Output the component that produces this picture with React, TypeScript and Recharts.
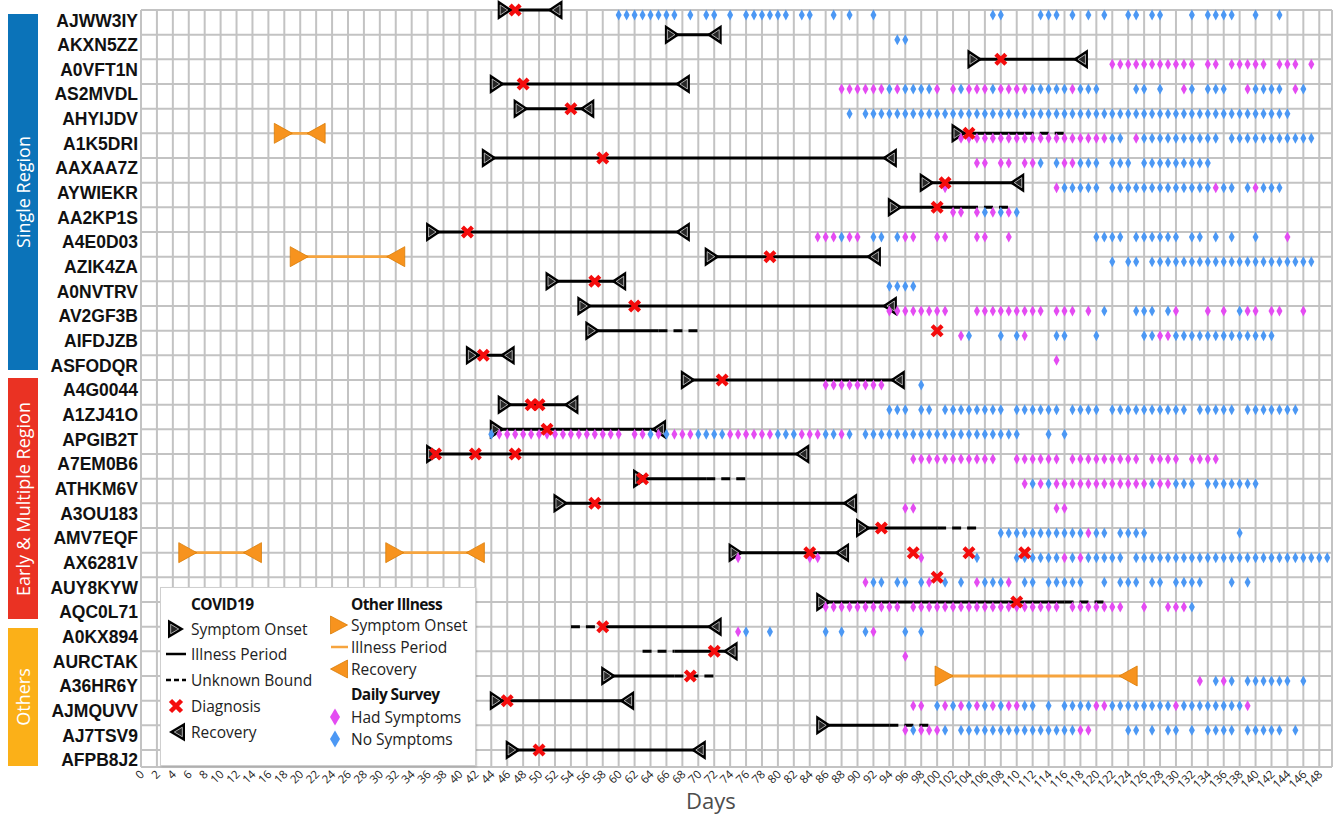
import React from 'react';
import { ScatterChart, XAxis, YAxis, CartesianGrid, Scatter, ReferenceLine } from 'recharts';

const participants = [
  'AJWW3IY', 'AKXN5ZZ', 'A0VFT1N', 'AS2MVDL', 'AHYIJDV', 'A1K5DRI', 'AAXAA7Z', 'AYWIEKR',
  'AA2KP1S', 'A4E0D03', 'AZIK4ZA', 'A0NVTRV', 'AV2GF3B', 'AIFDJZB', 'ASFODQR', 'A4G0044',
  'A1ZJ41O', 'APGIB2T', 'A7EM0B6', 'ATHKM6V', 'A3OU183', 'AMV7EQF', 'AX6281V', 'AUY8KYW',
  'AQC0L71', 'A0KX894', 'AURCTAK', 'A36HR6Y', 'AJMQUVV', 'AJ7TSV9', 'AFPB8J2',
];

const covidOnset: (number | null)[] = [
  46, 67, 105, 45, 48, 103, 44, 99, 95, 37, 72, 52, 56, 57, 42, 69,
  46, 45, 37, 63, 53, 91, 75, null, 86, null, null, 59, 45, 86, 47,
];

const covidRecovery: (number | null)[] = [
  52, 72, 118, 68, 56, null, 94, 110, null, 68, 92, 60, 94, null, 46, 95,
  54, 65, 83, null, 89, null, 88, null, null, 72, 74, null, 61, null, 70,
];

const diagnosisDays: number[][] = [
  [47], [], [108], [48], [54], [104], [58], [101], [100], [41], [79], [57], [62], [100], [43], [73],
  [49, 50], [51], [37, 42, 47], [63], [57], [93], [84, 97, 104, 111], [100], [110], [58], [72], [69], [46], [], [50],
];

// [row, from, to]
const illnessPeriod: [number, number, number][] = [
  [0, 46, 52], [1, 67, 72], [2, 105, 118], [3, 45, 68], [4, 48, 56], [5, 103, 111], [6, 44, 94],
  [7, 99, 110], [8, 95, 104], [9, 37, 68], [10, 72, 92], [11, 52, 60], [12, 56, 94], [13, 57, 65],
  [14, 42, 46], [15, 69, 95], [16, 46, 54], [17, 45, 65], [18, 37, 83], [19, 63, 71], [20, 53, 89],
  [21, 91, 100], [22, 75, 88], [24, 86, 116], [25, 58, 72], [26, 67, 74], [27, 59, 67], [28, 45, 61],
  [29, 86, 94], [30, 47, 70],
];

const unknownBound: [number, number, number][] = [
  [5, 111, 116], [8, 104, 109], [13, 65, 70], [19, 71, 76], [21, 100, 105], [24, 116, 121],
  [25, 54, 58], [26, 63, 67], [27, 67, 72], [29, 94, 99],
];

const otherOnset: [number, number][] = [[5, 18], [10, 20], [22, 6], [22, 32], [27, 101]];
const otherRecovery: [number, number][] = [[5, 22], [10, 32], [22, 14], [22, 42], [27, 124]];
const otherPeriod: [number, number, number][] = [[5, 18, 22], [10, 20, 32], [22, 6, 14], [22, 32, 42], [27, 101, 124]];

const surveyHad: string[] = [
  '', '', '122-132,134-135,137-141,143-145,147',
  '88-93,95,100,102,104-106,108-111,117,131,139,145', '', '103-121,125',
  '105-106,108-109,111-112,116-117', '101,115,135,140', '102-103,105,107,109',
  '85-87,89-90,96-97,100-101,105-106,109,144', '', '',
  '94-101,105-113,115-117,119,130,134,136,139-140,142-143,146', '103,111,128-129', '115', '86-93',
  '', '45-60,62-63,65,67-69,74-79,83-85,88', '97-107,110-115,117-125,127-130,132-135',
  '111,113,115-126,128-129', '96-97,115-116', '119', '75,84-85,98,116,118', '91,99,105,109',
  '86-95,97-115,117-123,126,129-131', '75,92', '96', '133,136',
  '97-98,101,103,105,107,109-110,120-121,130,139', '96,98-100,118-119', '',
];

const surveyNo: string[] = [
  '60-67,69,71-72,74,76-81,83-84,87,89,92,107-108,113-115,117,119,121,124-125,127-128,132,134-137,140,143',
  '95-96', '',
  '94,96-99,103,107,112-116,118-120,125-126,128,132,134-136,140-143,146', '89,91-144',
  '122-123,126-135,137-147', '113,115,118-120,122-124,126-134', '116-120,122-134,136-137,139,141-143',
  '106,108,110', '88,92-93,95,120-123,125-130,132-133,135,137,140', '122,124-125,127-147', '94-97',
  '121,125-127,129,138', '104,108,110,115-116,120,126-127,130-142', '', '98',
  '94-96,98-99,101-108,110-115,117-120,122-131,133-137,139-145',
  '44,64,66,70-73,80-82,86-87,89,91-110,114,116', '', '112,114,127,130-132,134-140', '',
  '108-118,120-121,123-126,138', '105,110-115,117,119-123,125-149',
  '92-93,95-96,98,101,103,106-108,111-112,114-118,121,123-125,127-128,130-133,137,139', '132',
  '76,79,86,88,91,96,98', '', '135,137,139-144,146',
  '100,102,104,106,108,111-112,114,116-119,122-129,131-138',
  '97,101,103-117,124-125,127,129-130,132,134-137,139-143,145', '',
];

const xTicks = [
  0, 2, 4, 6, 8, 10, 12, 14, 16, 18, 20, 22, 24, 26, 28, 30, 32, 34, 36, 38, 40, 42, 44, 46, 48,
  50, 52, 54, 56, 58, 60, 62, 64, 66, 68, 70, 72, 74, 76, 78, 80, 82, 84, 86, 88, 90, 92, 94, 96,
  98, 100, 102, 104, 106, 108, 110, 112, 114, 116, 118, 120, 122, 124, 126, 128, 130, 132, 134,
  136, 138, 140, 142, 144, 146, 148,
];
const yTicks = participants.map((_, i) => i);

const parseDays = (s: string): number[] => {
  if (!s) return [];
  const out: number[] = [];
  s.split(',').forEach((part) => {
    const [a, b] = part.split('-').map(Number);
    if (b === undefined || isNaN(b)) out.push(a);
    else for (let d = a; d <= b; d++) out.push(d);
  });
  return out;
};

const onsetPts = covidOnset.flatMap((d, i) => (d == null ? [] : [{ x: d, y: i }]));
const recoveryPts = covidRecovery.flatMap((d, i) => (d == null ? [] : [{ x: d, y: i }]));
const diagPts = diagnosisDays.flatMap((ds, i) => ds.map((d) => ({ x: d, y: i })));
const otherOnsetPts = otherOnset.map(([r, d]) => ({ x: d, y: r }));
const otherRecoveryPts = otherRecovery.map(([r, d]) => ({ x: d, y: r }));
const hadPts = surveyHad.flatMap((s, i) => parseDays(s).map((d) => ({ x: d, y: i })));
const noPts = surveyNo.flatMap((s, i) => parseDays(s).map((d) => ({ x: d, y: i })));

const BLUE_D = '#4c98f4';
const MAG_D = '#e44cf2';
const ORANGE = '#f7931e';
const ORANGE_LINE = '#f6a43e';

const blackTri = (cx: number, cy: number, dir: 1 | -1, w = 15, h = 20) => {
  const bx = cx - dir * w / 2;
  const ax = cx + dir * w / 2;
  const gx = (bx * 2 + ax) / 3;
  const s = 0.5;
  const p = (x: number, y: number) => `${gx + (x - gx) * s},${cy + (y - cy) * s}`;
  return (
    <g>
      <polygon points={`${bx},${cy - h / 2} ${ax},${cy} ${bx},${cy + h / 2}`} fill="#000" />
      <polygon points={`${p(bx, cy - h / 2)} ${p(ax, cy)} ${p(bx, cy + h / 2)}`} fill="#262626" stroke="#cfcfcf" strokeWidth={0.8} />
    </g>
  );
};

const orangeTri = (cx: number, cy: number, dir: 1 | -1, w = 18, h = 20) => {
  const bx = cx - dir * w / 2;
  const ax = cx + dir * w / 2;
  return <polygon points={`${bx},${cy - h / 2} ${ax},${cy} ${bx},${cy + h / 2}`} fill={ORANGE} stroke="#d97c06" strokeWidth={0.8} />;
};

const diamond = (cx: number, cy: number, color: string, hw = 3, hh = 5.5) => (
  <polygon points={`${cx},${cy - hh} ${cx + hw},${cy} ${cx},${cy + hh} ${cx - hw},${cy}`} fill={color} />
);

const cross = (cx: number, cy: number, r = 5, sw = 4.2) => (
  <path d={`M${cx - r},${cy - r} L${cx + r},${cy + r} M${cx + r},${cy - r} L${cx - r},${cy + r}`} stroke="#f40c0c" strokeWidth={sw} />
);

const OnsetShape = (p: any) => blackTri(p.cx - 2, p.cy, 1);
const RecoveryShape = (p: any) => blackTri(p.cx, p.cy, -1);
const OtherOnsetShape = (p: any) => orangeTri(p.cx - 1, p.cy, 1);
const OtherRecoveryShape = (p: any) => orangeTri(p.cx, p.cy, -1);
const HadShape = (p: any) => diamond(p.cx, p.cy + 5, MAG_D);
const NoShape = (p: any) => diamond(p.cx, p.cy + 5, BLUE_D);
const DiagShape = (p: any) => cross(p.cx, p.cy);

const YTick = (props: any) => {
  const { x, y, payload } = props;
  return (
    <text x={x} y={y + 16.5} textAnchor="end" fontFamily="'Liberation Sans', Arial, sans-serif" fontWeight="bold" fontSize={17.5} fill="#111">
      {participants[payload.value]}
    </text>
  );
};

const XTick = (props: any) => {
  const { x, y, payload } = props;
  const tx = x + 4;
  const ty = y + 8;
  return (
    <text x={tx} y={ty} textAnchor="end" transform={`rotate(-45 ${tx} ${ty})`} fontFamily="'Open Sans', sans-serif" fontSize={11.5} fill="#222">
      {payload.value}
    </text>
  );
};

const groupBars = [
  { label: 'Single Region', color: '#0b73b9', top: 14, height: 356 },
  { label: 'Early & Multiple Region', color: '#ea3223', top: 378, height: 241 },
  { label: 'Others', color: '#fbb018', top: 628, height: 138 },
];

const Legend = () => {
  const txt = { fontFamily: "'Open Sans', sans-serif", fontSize: 15.5, fill: '#222' } as const;
  const head = { fontFamily: "'Open Sans', sans-serif", fontSize: 15.5, fontWeight: 700, fill: '#111', letterSpacing: -0.6 } as const;
  return (
    <div style={{ position: 'absolute', left: 160, top: 587, width: 314, height: 177, background: '#fff', border: '1px solid #cfcfcf', boxShadow: '1px 1px 2px rgba(0,0,0,0.15)' }}>
      <svg width={314} height={177} style={{ display: 'block' }}>
        <text x={30} y={22} {...head}>COVID19</text>
        {blackTri(15, 41, 1, 16, 19)}
        <text x={30} y={47} {...txt}>Symptom Onset</text>
        <line x1={5} x2={25} y1={66} y2={66} stroke="#000" strokeWidth={2.5} />
        <text x={30} y={72} {...txt}>Illness Period</text>
        <line x1={5} x2={25} y1={92} y2={92} stroke="#000" strokeWidth={2.5} strokeDasharray="5 3" />
        <text x={30} y={98} {...txt}>Unknown Bound</text>
        {cross(15, 118, 5.5, 4.5)}
        <text x={30} y={124} {...txt}>Diagnosis</text>
        {blackTri(16, 144, -1, 16, 19)}
        <text x={30} y={150} {...txt}>Recovery</text>

        <text x={190} y={22} {...head}>Other Illness</text>
        {orangeTri(178, 37, 1, 17, 18)}
        <text x={190} y={43} {...txt}>Symptom Onset</text>
        <line x1={170} x2={187} y1={59} y2={59} stroke={ORANGE_LINE} strokeWidth={2.5} />
        <text x={190} y={65} {...txt}>Illness Period</text>
        {orangeTri(178, 81, -1, 17, 18)}
        <text x={190} y={87} {...txt}>Recovery</text>
        <text x={190} y={112} {...head}>Daily Survey</text>
        {diamond(174, 129, MAG_D, 5, 8.5)}
        <text x={190} y={135} {...txt}>Had Symptoms</text>
        {diamond(174, 151, BLUE_D, 5, 8.5)}
        <text x={190} y={157} {...txt}>No Symptoms</text>
      </svg>
    </div>
  );
};

export default function App() {
  return (
    <div style={{ position: 'absolute', left: 0, top: 0, width: 1334, height: 814, overflow: 'hidden', background: '#fff' }}>
      <ScatterChart width={1334} height={814} margin={{ top: 10, right: 2, bottom: 0, left: 0 }}>
        <CartesianGrid stroke="#c3c3c3" strokeWidth={2} />
        <XAxis
          type="number"
          dataKey="x"
          domain={[0, 149.6]}
          ticks={xTicks}
          interval={0}
          height={47}
          tickLine={false}
          axisLine={false}
          tickSize={0}
          tickMargin={0}
          tick={<XTick />}
        />
        <YAxis
          type="number"
          dataKey="y"
          reversed
          domain={[0, 30.69]}
          ticks={yTicks}
          interval={0}
          width={141}
          tickLine={false}
          axisLine={false}
          tickSize={0}
          tickMargin={3}
          tick={<YTick />}
        />
        {otherPeriod.map(([r, a, b], i) => (
          <ReferenceLine key={`op${i}`} ifOverflow="visible" segment={[{ x: a, y: r }, { x: b, y: r }]} stroke={ORANGE_LINE} strokeWidth={2.8} />
        ))}
        {illnessPeriod.map(([r, a, b], i) => (
          <ReferenceLine key={`ip${i}`} ifOverflow="visible" segment={[{ x: a, y: r }, { x: b, y: r }]} stroke="#000" strokeWidth={3} />
        ))}
        {unknownBound.map(([r, a, b], i) => (
          <ReferenceLine key={`ub${i}`} ifOverflow="visible" segment={[{ x: a, y: r }, { x: b, y: r }]} stroke="#000" strokeWidth={3} strokeDasharray="9 6" />
        ))}
        <Scatter name="Other onset" data={otherOnsetPts} shape={OtherOnsetShape} isAnimationActive={false} />
        <Scatter name="Other recovery" data={otherRecoveryPts} shape={OtherRecoveryShape} isAnimationActive={false} />
        <Scatter name="Symptom Onset" data={onsetPts} shape={OnsetShape} isAnimationActive={false} />
        <Scatter name="Recovery" data={recoveryPts} shape={RecoveryShape} isAnimationActive={false} />
        <Scatter name="Had Symptoms" data={hadPts} shape={HadShape} isAnimationActive={false} />
        <Scatter name="No Symptoms" data={noPts} shape={NoShape} isAnimationActive={false} />
        <Scatter name="Diagnosis" data={diagPts} shape={DiagShape} isAnimationActive={false} />
      </ScatterChart>

      {groupBars.map((g) => (
        <div
          key={g.label}
          style={{
            position: 'absolute', left: 8, top: g.top, width: 30, height: g.height, background: g.color,
            display: 'flex', alignItems: 'center', justifyContent: 'center',
          }}
        >
          <div style={{ transform: 'rotate(-90deg)', whiteSpace: 'nowrap', color: '#fff', fontFamily: "'Open Sans', sans-serif", fontSize: 18 }}>
            {g.label}
          </div>
        </div>
      ))}

      <Legend />

      <div style={{ position: 'absolute', left: 686, top: 785, fontFamily: "'Open Sans', sans-serif", fontSize: 22, color: '#4d4d4d' }}>Days</div>
    </div>
  );
}
